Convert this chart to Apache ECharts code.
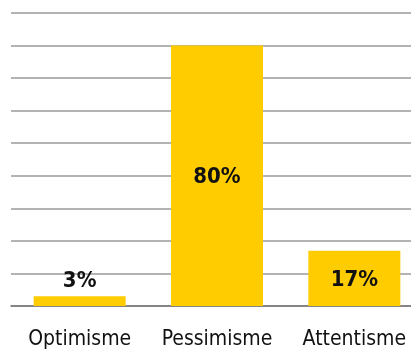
<!DOCTYPE html>
<html>
<head>
<meta charset="utf-8">
<script src="https://cdn.jsdelivr.net/npm/echarts@6/dist/echarts.min.js"></script>
<style>
  html, body { margin: 0; padding: 0; background: #fff; }
  #chart { width: 411px; height: 350px; }
</style>
</head>
<body>
<div id="chart"></div>
<script>
// Sentiment shares, in percent
const categories = ['Optimisme', 'Pessimisme', 'Attentisme'];
const shares = [3, 80, 17];

const chart = echarts.init(document.getElementById('chart'), null, { renderer: 'canvas' });
const fontFamily = '"DejaVu Sans Condensed", "Liberation Sans", Arial, sans-serif';

chart.setOption({
  animation: false,
  grid: { left: 11, top: 13, width: 412, height: 293, outerBoundsMode: 'none' },
  xAxis: {
    type: 'category',
    data: categories,
    axisLine: { lineStyle: { color: '#777', width: 1.5 } },
    axisTick: { show: false },
    axisLabel: { color: '#111', fontSize: 21, fontFamily, margin: 23, interval: 0, hideOverlap: false }
  },
  yAxis: {
    type: 'value',
    min: 0,
    max: 90,
    interval: 10,
    axisLabel: { show: false },
    axisLine: { show: false },
    axisTick: { show: false },
    splitLine: { lineStyle: { color: '#9a9a9a', width: 1.5 } }
  },
  series: [{
    type: 'bar',
    data: shares.map(v => ({
      value: v,
      label: v < 10
        ? { position: 'top', distance: 4 }
        : { position: 'inside', offset: [0, 2] }
    })),
    barWidth: 92,
    itemStyle: { color: '#ffcc00' },
    label: {
      show: true,
      formatter: p => p.value + '%',
      color: '#111',
      fontSize: 22,
      fontWeight: 'bold',
      fontFamily
    }
  }]
});
</script>
</body>
</html>
